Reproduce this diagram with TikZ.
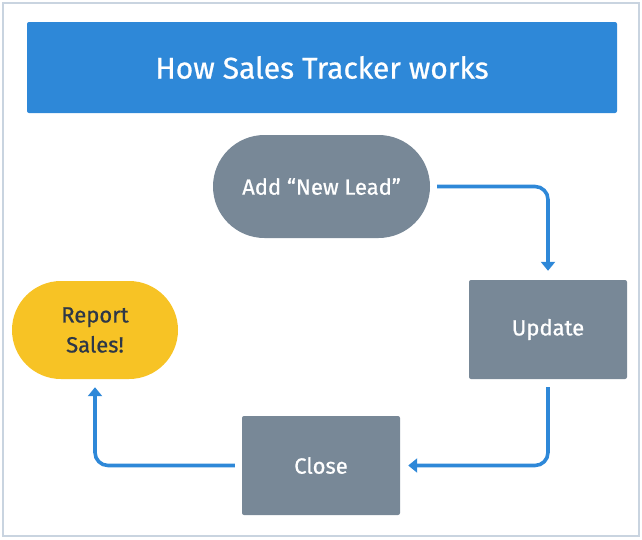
\documentclass[tikz,border=0pt]{standalone}
\usepackage{fontspec}
\setmainfont{Fira Sans}[FakeBold=0.7]
\usetikzlibrary{arrows.meta}
\definecolor{titleblue}{HTML}{2E88D8}
\definecolor{slate}{HTML}{788897}
\definecolor{gold}{HTML}{F7C325}
\definecolor{framec}{HTML}{C9D4E0}
\definecolor{darktext}{HTML}{2D3748}
\tikzset{
  box/.style={fill=slate, text=white, minimum width=158pt, minimum height=99pt, rounded corners=2pt, font=\fontsize{22}{26}\selectfont, inner sep=0pt},
  stad/.style={fill=slate, text=white, minimum width=217pt, minimum height=103pt, rounded corners=51.5pt, font=\fontsize{22}{26}\selectfont, inner sep=0pt},
  goal/.style={fill=gold, text=darktext, minimum width=166pt, minimum height=98pt, rounded corners=49pt, font=\fontsize{22}{30}\selectfont, inner sep=0pt, align=center},
  flow/.style={draw=titleblue, line width=3.6pt, rounded corners=13pt, -{Triangle[length=9pt,width=14pt]}},
}
\begin{document}
\begin{tikzpicture}[x=1pt,y=-1pt]
  \useasboundingbox (0,0) rectangle (642,539);
  \draw[framec, line width=2pt] (3,3) rectangle (639,536);
  \node[fill=titleblue, text=white, minimum width=590pt, minimum height=91pt, rounded corners=2pt, inner sep=0pt, font=\fontsize{30}{36}\selectfont] (title) at (322,67.5) {How Sales Tracker works};
  \node[stad] (add) at (321.5,186.5) {Add “New Lead”};
  \node[box] (upd) at (548,329.5) {Update};
  \node[box] (close) at (321,465.5) {Close};
  \node[goal] (rep) at (95,330) {Report\\Sales!};
  \draw[flow, shorten <=7pt, shorten >=9pt] (add.east) -| (upd.north);
  \draw[flow, shorten <=8pt, shorten >=8pt] (upd.south) |- (close.east);
  \draw[flow, shorten <=7pt, shorten >=8pt] (close.west) -| (rep.south);
\end{tikzpicture}
\end{document}
